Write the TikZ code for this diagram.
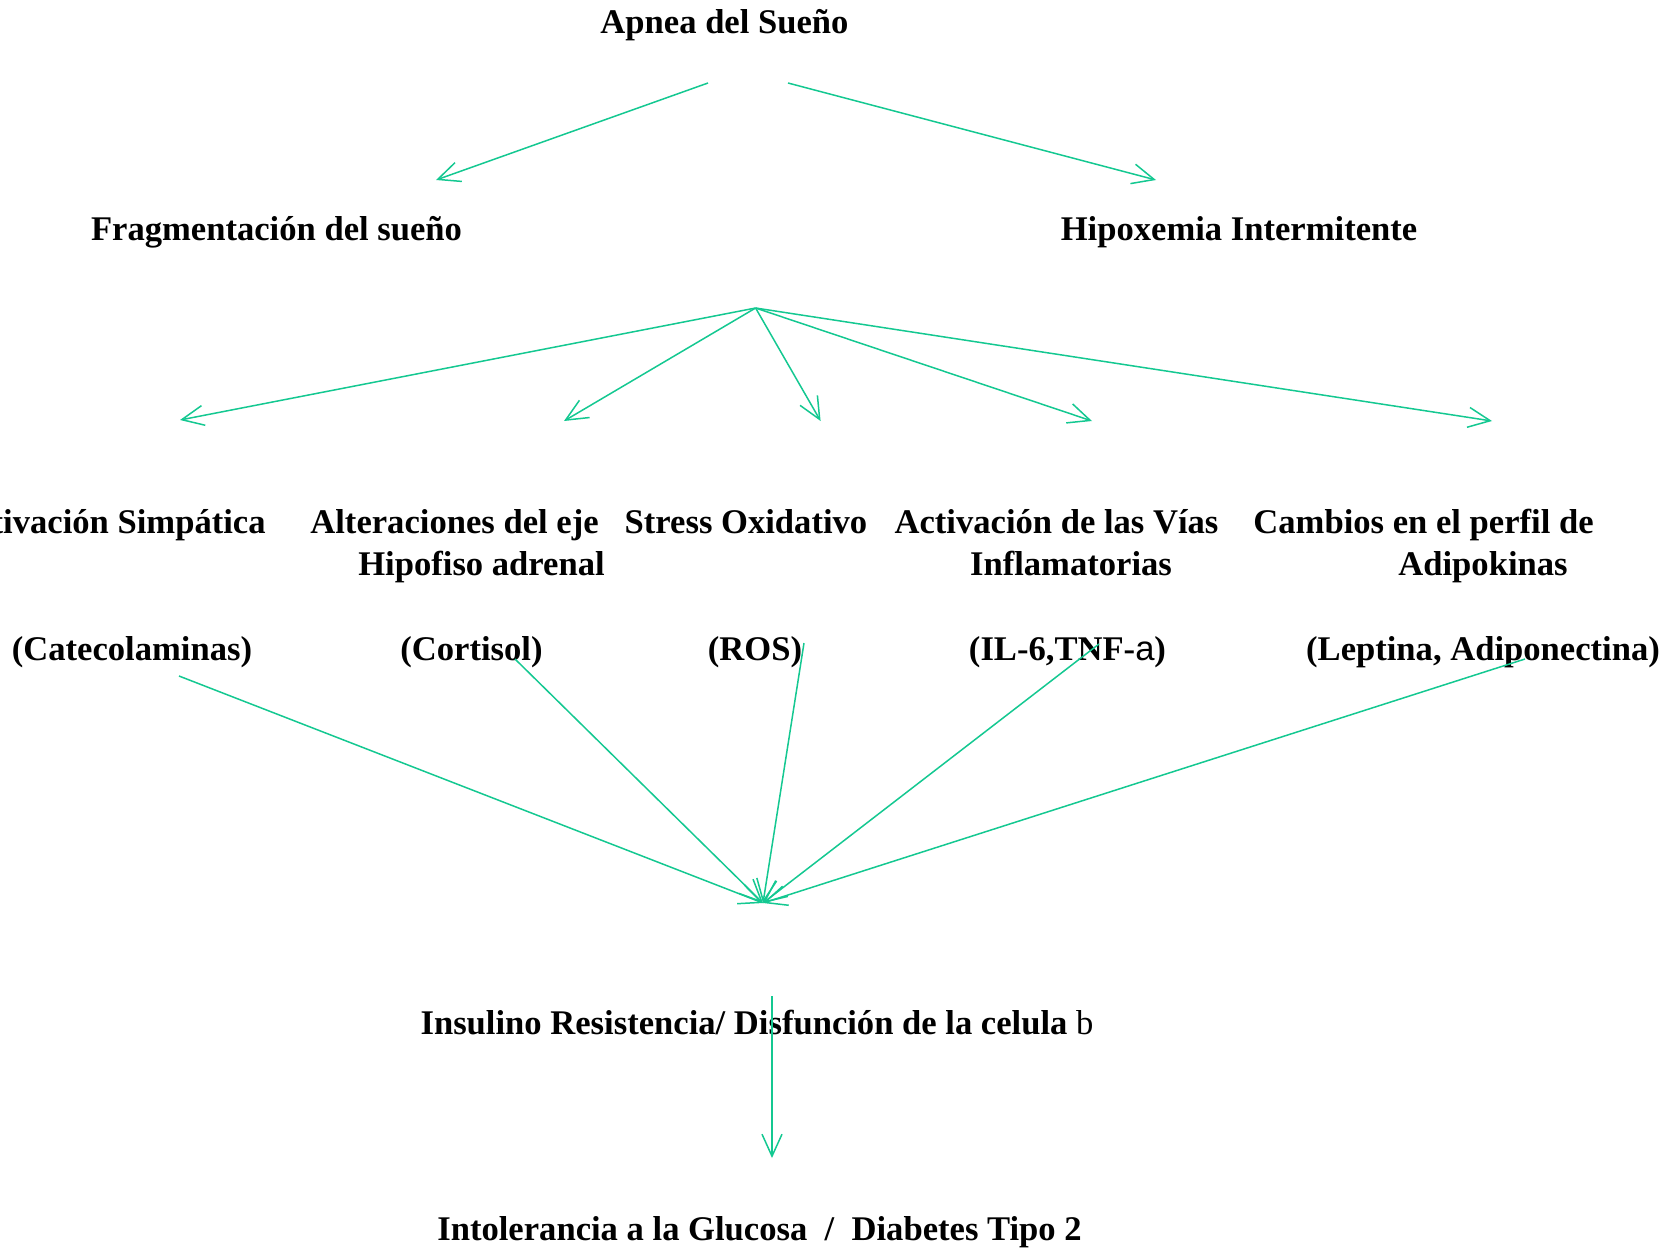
\documentclass[tikz,border=0pt]{standalone}
\usepackage{fontspec}
\setmainfont{Liberation Serif}
\newfontfamily\symsans{Liberation Sans}
\usetikzlibrary{arrows.meta}
\definecolor{flow}{RGB}{20,200,145}
\tikzset{
  lbl/.style={anchor=base, inner sep=0pt, font=\bfseries\fontsize{17.3}{21}\selectfont},
  arr/.style={draw=flow, line width=0.75pt, -{Straight Barb[length=11pt,width=10pt,line width=0.75pt]}}
}
\begin{document}
\begin{tikzpicture}[x=0.5pt,y=-0.5pt]
\useasboundingbox (0,0) rectangle (1671,1249);
% texts
\node[lbl] (apnea) at (724.5,33) {Apnea del Sueño};
\node[lbl] (frag) at (276.5,240) {Fragmentación del sueño};
\node[lbl] (hipox) at (1239,240) {Hipoxemia Intermitente};
\node[lbl, anchor=base east] (simp) at (266,533) {Activación Simpática};
\node[lbl] (cate) at (132,660) {(Catecolaminas)};
\node[lbl] (alt1) at (454.5,533) {Alteraciones del eje};
\node[lbl] (alt2) at (481.5,575) {Hipofiso adrenal};
\node[lbl] (cort) at (471.5,660) {(Cortisol)};
\node[lbl] (stress) at (746,533) {Stress Oxidativo};
\node[lbl] (ros) at (755,660) {(ROS)};
\node[lbl] (inf1) at (1056.5,533) {Activación de las Vías};
\node[lbl] (inf2) at (1071,575) {Inflamatorias};
\node[lbl] (il) at (1067.5,660) {(IL-6,TNF-{\mdseries\symsans a})};
\node[lbl] (adi1) at (1423.5,533) {Cambios en el perfil de};
\node[lbl] (adi2) at (1483,575) {Adipokinas};
\node[lbl] (lep) at (1483,660) {(Leptina, Adiponectina)};
\node[lbl] (ir) at (757,1034) {Insulino Resistencia/ Disfunción de la celula {\mdseries b}};
\node[lbl] (dm) at (759.5,1240) {Intolerancia a la Glucosa \ / \ Diabetes Tipo 2};
% connector endpoints
\coordinate (s1) at (708,83);
\coordinate (s2) at (788,83);
\coordinate (t1) at (436,180);
\coordinate (t2) at (1156,180);
\coordinate (fan) at (755.6,308);
\coordinate (f1) at (180,420);
\coordinate (f2) at (564,421);
\coordinate (f3) at (820.6,421);
\coordinate (f4) at (1092,421);
\coordinate (f5) at (1492,421);
\coordinate (c1) at (179,676);
\coordinate (c2) at (515,659);
\coordinate (c3) at (804,643);
\coordinate (c4) at (1099,644);
\coordinate (c5) at (1525,659);
\coordinate (conv) at (763,903);
\coordinate (v1) at (772,996);
\coordinate (v2) at (772,1158);
% connectors
\draw[arr] (s1) -- (t1);
\draw[arr] (s2) -- (t2);
\foreach \f in {f1,f2,f3,f4,f5} \draw[arr] (fan) -- (\f);
\foreach \c in {c1,c2,c3,c4,c5} \draw[arr] (\c) -- (conv);
\draw[arr] (v1) -- (v2);
\end{tikzpicture}
\end{document}
